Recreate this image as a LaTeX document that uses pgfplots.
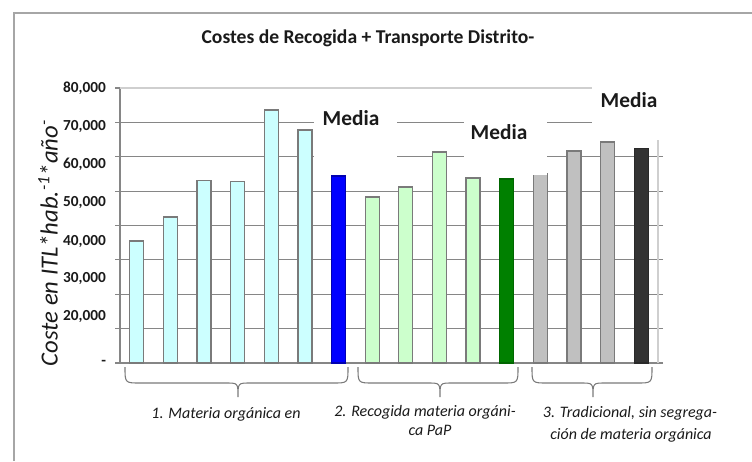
\documentclass[border=0pt]{standalone}
\usepackage{pgfplots}
\pgfplotsset{compat=1.18}
\usepackage{fontspec}
\setmainfont{Carlito}
\definecolor{gridgray}{HTML}{868686}
\definecolor{lightline}{HTML}{CFCFCF}
\definecolor{framegray}{HTML}{A6A6A6}
\definecolor{barline}{HTML}{7A7A7A}
\definecolor{lcyan}{HTML}{CCFFFF}
\definecolor{mblue}{HTML}{0000FF}
\definecolor{lgreen}{HTML}{CCFFCC}
\definecolor{dgreen}{HTML}{008000}
\definecolor{mgray}{HTML}{C0C0C0}
\definecolor{dgray}{HTML}{333333}
\definecolor{txt}{HTML}{1A1A1A}
\newcommand{\brc}[3]{%
  \draw[barline, line width=0.8pt] (#1,367) .. controls (#1,383) .. (#1+15,383) -- (#3-12,383)
     .. controls (#3,383) .. (#3,397) .. controls (#3,383) .. (#3+12,383) -- (#2-15,383)
     .. controls (#2,383) .. (#2,367);}
\begin{document}
\begin{tikzpicture}[x=0.75pt,y=-0.75pt]
\useasboundingbox (0,0) rectangle (752,461);
\begin{axis}[
  at={(90pt,-272.25pt)}, anchor=south west,
  scale only axis, width=403.5pt, height=206.25pt,
  xmin=-0.5, xmax=15.5, ymin=0, ymax=80000,
  clip=false,
  scaled y ticks=false,
  xtick=\empty,
  ytick={0,10000,20000,30000,40000,50000,60000,70000,80000},
  yticklabels={,,,,,,,,},
  ymajorgrids,
  grid style={color=gridgray, line width=0.9pt},
  axis line style={draw=none},
  tick align=outside,
  major tick length=3.75pt,
  ytick style={color=gridgray, line width=0.9pt},
  /pgf/number format/assume math mode=true,
  extra y ticks={0,13382,24436,35200,46545,57891,68655,80000},
  extra y tick labels={{-},{20,000},{30,000},{40,000},{50,000},{60,000},{70,000},{80,000}},
  extra y tick style={major tick length=0pt, grid=none,
     yticklabel style={font=\fontsize{11.5}{12}\selectfont\bfseries, text=txt, xshift=-7pt}},
]
\addplot[ybar, bar width=10.5pt, bar shift=0pt, fill=lcyan, draw=barline, line width=0.9pt]
  coordinates {(0,35500) (1,42500) (2,53200) (3,52900) (4,73600) (5,67800)};
\addplot[ybar, bar width=10.5pt, bar shift=0pt, fill=mblue, draw=mblue!70!black, line width=0.9pt]
  coordinates {(6,54400)};
\addplot[ybar, bar width=10.5pt, bar shift=0pt, fill=lgreen, draw=barline, line width=0.9pt]
  coordinates {(7,48300) (8,51200) (9,61400) (10,53800)};
\addplot[ybar, bar width=10.5pt, bar shift=0pt, fill=dgreen, draw=dgreen!80!black, line width=0.9pt]
  coordinates {(11,53500)};
\addplot[ybar, bar width=10.5pt, bar shift=0pt, fill=mgray, draw=barline, line width=0.9pt]
  coordinates {(12,55000) (13,61700) (14,64300)};
\addplot[ybar, bar width=10.5pt, bar shift=0pt, fill=dgray, draw=dgray!80!black, line width=0.9pt]
  coordinates {(15,62300)};
\draw[gridgray, line width=0.9pt] (rel axis cs:0,0) -- (rel axis cs:0,1);
\draw[lightline, line width=0.9pt] (rel axis cs:0,1) -- (rel axis cs:1,1);
\draw[lightline, line width=0.9pt] (rel axis cs:1,0) -- (rel axis cs:1,1);
\end{axis}
% white boxes behind the "Media" labels
\fill[white] (314,92) rectangle (397,172);
\fill[white] (464,92) rectangle (547,174.5);
\fill[white] (592,78) rectangle (664,140);
\node[font=\fontsize{16}{16}\selectfont\bfseries, text=txt] at (351,118) {Media};
\node[font=\fontsize{16}{16}\selectfont\bfseries, text=txt] at (499,132) {Media};
\node[font=\fontsize{16}{16}\selectfont\bfseries, text=txt] at (629,100) {Media};
% title
\node[font=\fontsize{14.7}{15}\selectfont\bfseries, text=txt] at (368,38) {Costes de Recogida + Transporte Distrito-};
% y label
\node[rotate=90, font=\fontsize{18.5}{19}\selectfont\itshape, text=txt] at (48,243)
  {Coste en ITL*hab.\textsuperscript{-1}*año\textsuperscript{-}};
% frame
\draw[framegray, line width=1.5pt] (14,461) -- (14,13) -- (752,13);
% braces
\brc{125}{348}{238}
\brc{358}{518}{440}
\brc{532}{652}{593}
% group labels
\begin{scope}[every node/.style={font=\fontsize{12}{12}\selectfont\itshape, text=txt}]
\node at (226,414) {1. Materia orgánica en};
\node at (425,412) {2. Recogida materia orgáni-};
\node at (430,430) {ca PaP};
\node at (630,413) {3. Tradicional, sin segrega-};
\node at (631,435) {ción de materia orgánica};
\end{scope}
\end{tikzpicture}
\end{document}
